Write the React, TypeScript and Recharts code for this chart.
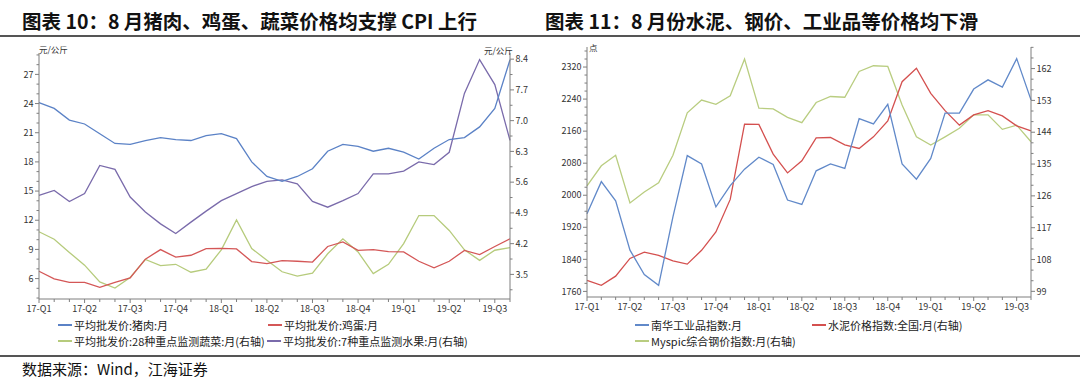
import React from 'react';
import { LineChart, Line, XAxis, YAxis } from 'recharts';

// 月份（2017-01 ～ 2019-08）
const months = [
  '2017-01', '2017-02', '2017-03', '2017-04', '2017-05', '2017-06', '2017-07', '2017-08',
  '2017-09', '2017-10', '2017-11', '2017-12', '2018-01', '2018-02', '2018-03', '2018-04',
  '2018-05', '2018-06', '2018-07', '2018-08', '2018-09', '2018-10', '2018-11', '2018-12',
  '2019-01', '2019-02', '2019-03', '2019-04', '2019-05', '2019-06', '2019-07', '2019-08',
];
const quarterLabels = ['17-Q1', '17-Q2', '17-Q3', '17-Q4', '18-Q1', '18-Q2', '18-Q3', '18-Q4', '19-Q1', '19-Q2', '19-Q3'];

// 图表10：左轴 元/公斤
const pork = [24.1, 23.5, 22.3, 21.9, 20.9, 19.9, 19.8, 20.2, 20.5, 20.3, 20.2, 20.7, 20.9, 20.4, 18.0, 16.5,
  16.0, 16.5, 17.3, 19.1, 19.8, 19.6, 19.1, 19.4, 19.0, 18.3, 19.4, 20.3, 20.5, 21.6, 23.5, 28.5];
const egg = [6.75, 5.97, 5.6, 5.6, 5.1, 5.6, 6.07, 8.0, 8.98, 8.2, 8.4, 9.08, 9.1, 9.05, 7.75, 7.54,
  7.85, 7.78, 7.7, 9.3, 9.77, 8.9, 8.98, 8.77, 8.74, 7.78, 7.1, 7.78, 8.9, 8.47, 9.3, 10.1];
// 右轴
const veg = [4.47, 4.3, 4.0, 3.71, 3.33, 3.19, 3.43, 3.84, 3.7, 3.73, 3.55, 3.62, 4.06, 4.74, 4.09, 3.82,
  3.56, 3.46, 3.53, 3.97, 4.31, 4.01, 3.52, 3.73, 4.2, 4.84, 4.84, 4.5, 4.06, 3.82, 4.05, 4.11];
const fruit = [5.3, 5.41, 5.16, 5.34, 5.98, 5.89, 5.26, 4.92, 4.65, 4.43, 4.69, 4.94, 5.18, 5.34, 5.5, 5.62,
  5.65, 5.56, 5.16, 5.03, 5.18, 5.34, 5.79, 5.79, 5.85, 6.06, 6.0, 6.28, 7.62, 8.39, 7.82, 6.55];

// 图表11
const nanhua = [1954, 2034, 1986, 1863, 1802, 1775, 1946, 2099, 2078, 1971, 2024, 2065, 2095, 2077, 1988, 1977,
  2061, 2078, 2067, 2191, 2178, 2227, 2078, 2040, 2092, 2205, 2205, 2265, 2288, 2270, 2341, 2238];
const cement = [102.1, 100.7, 103.3, 108.3, 110.1, 109.2, 107.6, 106.7, 110.6, 115.8, 125.0, 146.3, 146.2, 137.8, 132.5, 135.9,
  142.4, 142.5, 140.4, 139.4, 142.7, 147.2, 158.3, 162.1, 155.0, 150.1, 146.0, 148.9, 150.1, 148.6, 145.8, 144.4];
const steel = [128.8, 134.5, 137.5, 124.0, 127.1, 129.7, 137.5, 149.5, 153.1, 151.9, 154.3, 164.7, 150.8, 150.6, 148.2, 146.7,
  152.4, 154.1, 153.9, 161.2, 162.8, 162.6, 151.7, 142.7, 140.4, 142.7, 145.1, 148.9, 148.9, 144.8, 146.0, 141.3];

// 刻度
const leftMajor1 = [6, 9, 12, 15, 18, 21, 24, 27];
const leftMinor1 = [4, 5, 6, 7, 8, 9, 10, 11, 12, 13, 14, 15, 16, 17, 18, 19, 20, 21, 22, 23, 24, 25, 26, 27, 28, 29];
const rightMajor1 = [3.5, 4.2, 4.9, 5.6, 6.3, 7.0, 7.7, 8.4];
const rightMinor1 = [3.15, 3.5, 3.85, 4.2, 4.55, 4.9, 5.25, 5.6, 5.95, 6.3, 6.65, 7.0, 7.35, 7.7, 8.05, 8.4];
const leftMajor2 = [1760, 1840, 1920, 2000, 2080, 2160, 2240, 2320];
const leftMinor2 = [1760, 1780, 1800, 1820, 1840, 1860, 1880, 1900, 1920, 1940, 1960, 1980, 2000, 2020, 2040, 2060,
  2080, 2100, 2120, 2140, 2160, 2180, 2200, 2220, 2240, 2260, 2280, 2300, 2320, 2340, 2360];
const rightMajor2 = [99, 108, 117, 126, 135, 144, 153, 162];
const rightMinor2 = [99, 102, 105, 108, 111, 114, 117, 120, 123, 126, 129, 132, 135, 138, 141, 144, 147, 150, 153, 156, 159, 162, 165, 168];

const monthTicks = months.map((_, i) => i);

const data1 = months.map((m, i) => ({ i, month: m, pork: pork[i], egg: egg[i], veg: veg[i], fruit: fruit[i] }));
const data2 = months.map((m, i) => ({ i, month: m, nanhua: nanhua[i], cement: cement[i], steel: steel[i] }));

const FONT = '"Noto Sans CJK SC", "Noto Sans", sans-serif';
const AXIS = '#7f7f7f';
const TXT = '#333';

const XTick = ({ x, y, payload }: any) => {
  const i = payload.value;
  const q = i % 3 === 0;
  return (
    <g>
      <line x1={x} x2={x} y1={y} y2={y + (q ? 4 : 3)} stroke={AXIS} />
      {q && (
        <text x={x} y={y + 13} textAnchor="middle" fontSize={9} fill={TXT} fontFamily={FONT}>
          {quarterLabels[i / 3]}
        </text>
      )}
    </g>
  );
};

const makeYTick = (side: 'left' | 'right', majors: number[], digits: number) => ({ x, y, payload }: any) => {
  const v = payload.value;
  const major = majors.some((m) => Math.abs(m - v) < 1e-6);
  const dir = side === 'left' ? -1 : 1;
  const len = major ? 4 : 2.5;
  return (
    <g>
      <line x1={x} x2={x + dir * len} y1={y} y2={y} stroke={AXIS} />
      {major && (
        <text x={x + dir * (len + 1.5)} y={y + 3.2} textAnchor={side === 'left' ? 'end' : 'start'}
          fontSize={9} fill={TXT} fontFamily={FONT}>
          {v.toFixed(digits)}
        </text>
      )}
    </g>
  );
};

const LegendItem = ({ color, label, left, top }: { color: string; label: string; left: number; top: number }) => (
  <div style={{ position: 'absolute', left, top, display: 'flex', alignItems: 'center', whiteSpace: 'nowrap' }}>
    <span style={{ display: 'inline-block', width: 14, height: 1.2, background: color, marginRight: 2 }} />
    <span style={{ fontSize: 11, color: '#222', fontFamily: FONT, lineHeight: '16px' }}>{label}</span>
  </div>
);

const C = {
  pork: '#5b82c6',
  egg: '#d45757',
  veg: '#b6cb7c',
  fruit: '#7a6bab',
  nanhua: '#6189c9',
  cement: '#d4504f',
  steel: '#b9cd80',
};

export default function App() {
  return (
    <div style={{ position: 'absolute', left: 0, top: 0, width: 1080, height: 381, background: '#fff', overflow: 'hidden', fontFamily: FONT }}>
      {/* 标题 */}
      <div style={{ position: 'absolute', left: 22, top: 8, fontSize: 19.5, fontWeight: 700, lineHeight: '26px', color: '#111', whiteSpace: 'nowrap' }}>
        图表 10：8 月猪肉、鸡蛋、蔬菜价格均支撑 CPI 上行
      </div>
      <div style={{ position: 'absolute', left: 545, top: 8, fontSize: 19.5, fontWeight: 700, lineHeight: '26px', color: '#111', whiteSpace: 'nowrap' }}>
        图表 11：8 月份水泥、钢价、工业品等价格均下滑
      </div>
      <div style={{ position: 'absolute', left: 0, top: 35, width: 1080, height: 1.5, background: '#555' }} />

      {/* 图表10 */}
      <div style={{ position: 'absolute', left: 0, top: 0 }}>
        <LineChart width={540} height={381} data={data1} margin={{ top: 53, right: 0, bottom: 62, left: 0 }}>
          <XAxis dataKey="i" type="number" domain={[0, 31]} ticks={monthTicks} interval={0} height={20}
            stroke={AXIS} tickSize={0} tickMargin={0} tick={<XTick />} />
          <YAxis yAxisId="l" domain={[3.9, 29.2]} ticks={leftMinor1} interval={0} width={39} allowDataOverflow
            stroke={AXIS} tickSize={0} tickMargin={0} tick={makeYTick('left', leftMajor1, 0)} />
          <YAxis yAxisId="r" orientation="right" domain={[2.94, 8.54]} ticks={rightMinor1} interval={0} width={30} allowDataOverflow
            stroke={AXIS} tickSize={0} tickMargin={0} tick={makeYTick('right', rightMajor1, 1)} />
          <Line yAxisId="r" dataKey="veg" stroke={C.veg} strokeWidth={1.3} dot={false} isAnimationActive={false} />
          <Line yAxisId="r" dataKey="fruit" stroke={C.fruit} strokeWidth={1.3} dot={false} isAnimationActive={false} />
          <Line yAxisId="l" dataKey="egg" stroke={C.egg} strokeWidth={1.3} dot={false} isAnimationActive={false} />
          <Line yAxisId="l" dataKey="pork" stroke={C.pork} strokeWidth={1.3} dot={false} isAnimationActive={false} />
        </LineChart>
      </div>
      <div style={{ position: 'absolute', left: 39, top: 43, fontSize: 8.5, color: TXT }}>元/公斤</div>
      <div style={{ position: 'absolute', left: 484, top: 44, fontSize: 8.5, color: TXT }}>元/公斤</div>
      <LegendItem color={C.pork} label="平均批发价:猪肉:月" left={58} top={317} />
      <LegendItem color={C.egg} label="平均批发价:鸡蛋:月" left={268} top={317} />
      <LegendItem color={C.veg} label="平均批发价:28种重点监测蔬菜:月(右轴)" left={58} top={333} />
      <LegendItem color={C.fruit} label="平均批发价:7种重点监测水果:月(右轴)" left={267} top={333} />

      {/* 图表11 */}
      <div style={{ position: 'absolute', left: 540, top: 0 }}>
        <LineChart width={540} height={381} data={data2} margin={{ top: 47, right: 0, bottom: 64, left: 0 }}>
          <XAxis dataKey="i" type="number" domain={[0, 31]} ticks={monthTicks} interval={0} height={20}
            stroke={AXIS} tickSize={0} tickMargin={0} tick={<XTick />} />
          <YAxis yAxisId="l" domain={[1746, 2370]} ticks={leftMinor2} interval={0} width={47} allowDataOverflow
            stroke={AXIS} tickSize={0} tickMargin={0} tick={makeYTick('left', leftMajor2, 0)} />
          <YAxis yAxisId="r" orientation="right" domain={[97.4, 168.1]} ticks={rightMinor2} interval={0} width={49} allowDataOverflow
            stroke={AXIS} tickSize={0} tickMargin={0} tick={makeYTick('right', rightMajor2, 0)} />
          <Line yAxisId="r" dataKey="steel" stroke={C.steel} strokeWidth={1.3} dot={false} isAnimationActive={false} />
          <Line yAxisId="r" dataKey="cement" stroke={C.cement} strokeWidth={1.3} dot={false} isAnimationActive={false} />
          <Line yAxisId="l" dataKey="nanhua" stroke={C.nanhua} strokeWidth={1.3} dot={false} isAnimationActive={false} />
        </LineChart>
      </div>
      <div style={{ position: 'absolute', left: 589, top: 41, fontSize: 8.5, color: TXT }}>点</div>
      <LegendItem color={C.nanhua} label="南华工业品指数:月" left={635} top={317} />
      <LegendItem color={C.cement} label="水泥价格指数:全国:月(右轴)" left={812} top={317} />
      <LegendItem color={C.steel} label="Myspic综合钢价指数:月(右轴)" left={635} top={333} />

      {/* 数据来源 */}
      <div style={{ position: 'absolute', left: 0, top: 355, width: 1080, height: 1.5, background: '#555' }} />
      <div style={{ position: 'absolute', left: 22, top: 359, fontSize: 15, lineHeight: '20px', color: '#111', whiteSpace: 'nowrap' }}>
        数据来源：Wind，江海证券
      </div>
    </div>
  );
}
